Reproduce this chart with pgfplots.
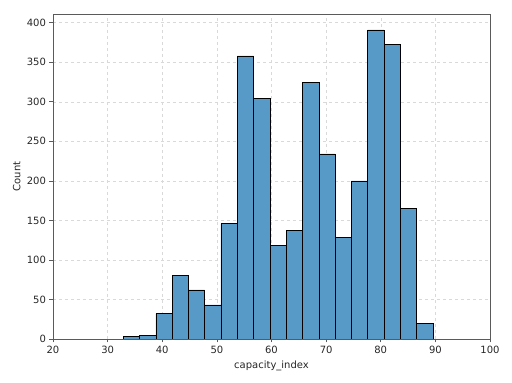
\documentclass[border=0pt]{standalone}
\usepackage{fontspec}
\setmainfont{DejaVu Sans}
\usepackage{pgfplots}
\pgfplotsset{compat=1.18}
\definecolor{barfill}{RGB}{87,153,199}
\definecolor{spine}{RGB}{90,90,90}
\begin{document}
\fontsize{10}{12}\selectfont
\begin{tikzpicture}
\useasboundingbox (-53pt,-44pt) rectangle (459pt,339pt);
\begin{axis}[
  scale only axis,
  width=437pt, height=325pt,
  xmin=20, xmax=100, ymin=0, ymax=411,
  xtick={20,30,...,100},
  ytick={0,50,...,400},
  tick align=outside,
  tick pos=left,
  major tick length=3.5pt,
  tick style={spine, line width=0.6pt},
  axis line style={spine, line width=0.6pt},
  grid=major,
  major grid style={dashed, gray!30, line width=0.5pt},
  /pgf/number format/assume math mode=true,
  ticklabel style={font=\fontsize{10}{12}\selectfont, text=black!85},
  xlabel={capacity\_index},
  ylabel={Count},
  label style={font=\fontsize{10}{12}\selectfont, text=black!85},
  xlabel style={at={(axis description cs:0.5,0)}, anchor=north, yshift=-18pt},
  ylabel style={at={(axis description cs:0,0.5)}, anchor=south, yshift=29pt},
]
\addplot[ybar interval, fill=barfill, draw=black, line width=0.6pt] coordinates {
(32.85,3) (35.83,5) (38.82,32) (41.80,80) (44.79,62) (47.77,43) (50.75,146)
(53.74,358) (56.72,304) (59.71,118) (62.69,137) (65.67,324) (68.66,234)
(71.64,128) (74.63,200) (77.61,391) (80.59,373) (83.58,165) (86.56,20) (89.54,20)
};
\end{axis}
\end{tikzpicture}
\end{document}
